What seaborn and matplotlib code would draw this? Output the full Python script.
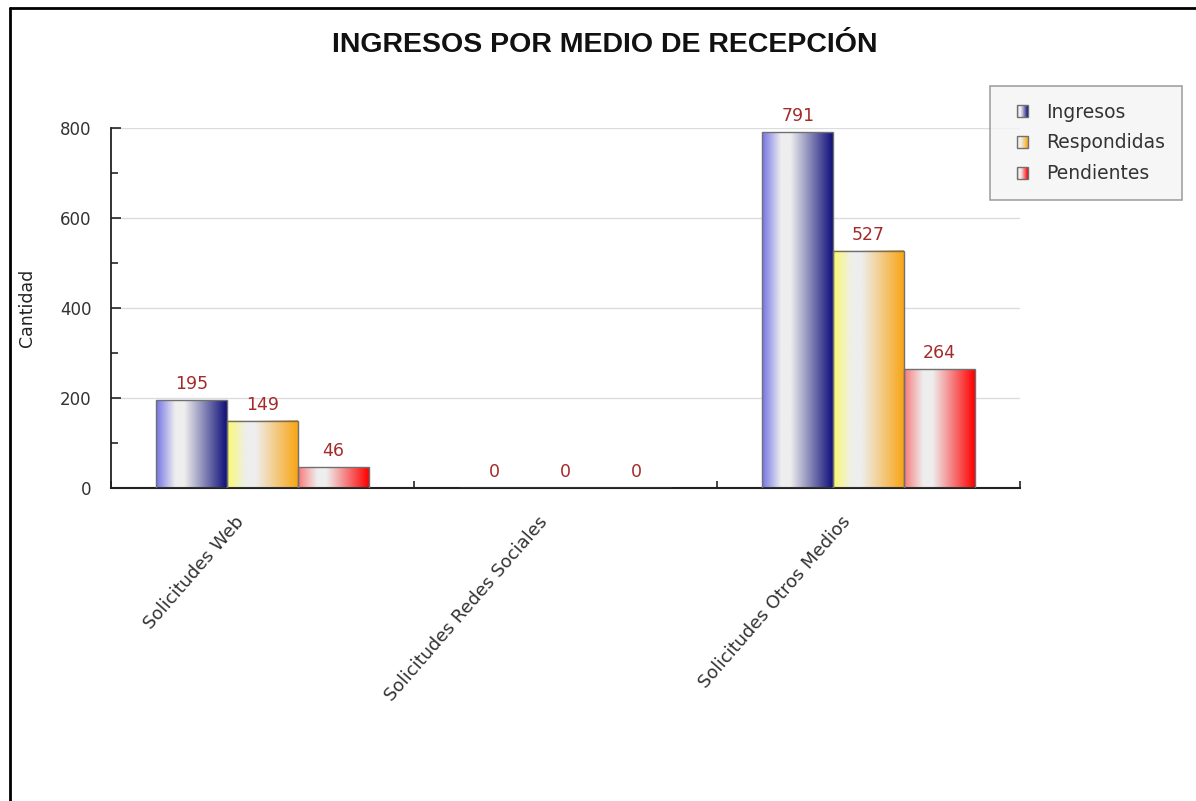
import numpy as np
import pandas as pd
import matplotlib
matplotlib.use("Agg")
import matplotlib.pyplot as plt
import seaborn as sns
from matplotlib.colors import LinearSegmentedColormap
from matplotlib.legend_handler import HandlerBase
from matplotlib.patches import Rectangle
from matplotlib.lines import Line2D
from matplotlib.transforms import ScaledTranslation

# datos del grafico
medios = ["Solicitudes Web", "Solicitudes Redes Sociales", "Solicitudes Otros Medios"]
series = ["Ingresos", "Respondidas", "Pendientes"]
ingresos = [195, 0, 791]
respondidas = [149, 0, 527]
pendientes = [46, 0, 264]

titulo = "INGRESOS POR MEDIO DE RECEPCIÓN"
y_label = "Cantidad"

# degradados (izquierda, blanco, derecha)
gradientes = {
    "Ingresos": ["#7373e6", "#eeeeee", "#10107a"],
    "Respondidas": ["#fafa6e", "#eeeeee", "#f9a514"],
    "Pendientes": ["#f87878", "#eeeeee", "#ff0000"],
}


def crear_cmap(nombre):
    izq, mid, der = gradientes[nombre]
    return LinearSegmentedColormap.from_list(
        nombre, [(0.0, izq), (0.27, mid), (0.40, mid), (1.0, der)])


class GradienteHandler(HandlerBase):
    """Dibuja el cuadrado de la leyenda con el mismo degradado."""
    def create_artists(self, legend, orig_handle, xdescent, ydescent,
                       width, height, fontsize, trans):
        cmap = crear_cmap(orig_handle.get_label())
        lado_w, lado_h = 8.3, 8.6  # en puntos
        x0 = -xdescent + width - lado_w
        y0 = -ydescent + (height - lado_h) / 2
        n = 12
        artistas = []
        for k in range(n):
            r = Rectangle((x0 + lado_w * k / n, y0), lado_w / n, lado_h,
                          facecolor=cmap((k + 0.5) / n), edgecolor="none",
                          transform=trans)
            artistas.append(r)
        artistas.append(Rectangle((x0, y0), lado_w, lado_h,
                                  facecolor="none", edgecolor="#707070",
                                  linewidth=1, transform=trans))
        return artistas


df = pd.DataFrame({
    "medio": medios * 3,
    "estado": [s for s in series for _ in medios],
    "cantidad": ingresos + respondidas + pendientes,
})

sns.set_style("white")
plt.rcParams["font.family"] = ["DejaVu Sans"]

fig = plt.figure(figsize=(11.96, 8.01), dpi=100)
ax = fig.add_axes([111 / 1196, 1 - 488 / 801, 909 / 1196, 360 / 801])

sns.barplot(data=df, x="medio", y="cantidad", hue="estado", order=medios,
            hue_order=series, palette=[gradientes[s][2] for s in series],
            width=0.7, legend=False, edgecolor="#707070", linewidth=1,
            saturation=1, ax=ax)

# degradado sobre cada barra
grad = np.linspace(0, 1, 256).reshape(1, -1)
for serie, cont in zip(series, ax.containers):
    cmap = crear_cmap(serie)
    for rect in cont:
        x0, w, h = rect.get_x(), rect.get_width(), rect.get_height()
        if h > 0:
            ax.imshow(grad, cmap=cmap, extent=[x0, x0 + w, 0, h],
                      aspect="auto", zorder=2.5, interpolation="bilinear")
        rect.set_facecolor("none")
        rect.set_zorder(3)
    ax.bar_label(cont, labels=[f"{int(v)}" for v in cont.datavalues],
                 padding=5, fontsize=12.5, color="#a52a2a")

ax.set_xlim(-0.5, 2.5)
ax.set_ylim(0, 800)

# ejes
sns.despine(ax=ax)
ax.spines["left"].set_color("#222222")
ax.spines["bottom"].set_color("#222222")
ax.spines["left"].set_linewidth(1.3)
ax.spines["bottom"].set_linewidth(1.5)

ax.set_yticks(np.arange(0, 801, 200))
ax.set_yticks(np.arange(100, 800, 200), minor=True)
ax.tick_params(axis="y", which="major", direction="in", length=7.5, width=1.2,
               pad=14, labelsize=12, labelcolor="#333333", left=True)
ax.tick_params(axis="y", which="minor", direction="in", length=5, width=1.2, left=True)
ax.yaxis.grid(True, which="major", color="#dcdcdc", linewidth=1)
ax.set_axisbelow(True)

ax.set_xticks([0, 1, 2])
ax.set_xticklabels(medios, rotation=49, ha="right", va="center",
                   rotation_mode="anchor", fontsize=13, color="#333333")
ax.set_xticks([-0.5, 0.5, 1.5, 2.5], minor=True)
ax.tick_params(axis="x", which="major", length=0, pad=22)
ax.tick_params(axis="x", which="minor", direction="in", length=5, width=1.2, bottom=True)
desplaza = ScaledTranslation(-21 / 100, 0, fig.dpi_scale_trans)
for lbl in ax.get_xticklabels():
    lbl.set_transform(lbl.get_transform() + desplaza)

ax.set_xlabel("")
ax.set_ylabel(y_label, fontsize=12.5, color="#222222")
ax.yaxis.set_label_coords(-0.083, 0.5)

fig.text(0.506, 1 - 45 / 801, titulo, ha="center", va="center",
         fontsize=20.5, fontweight="bold", family="Liberation Sans", color="#111111")

# leyenda
handles = [Rectangle((0, 0), 1, 1, label=s) for s in series]
leg = fig.legend(handles=handles, labels=series, loc="upper left",
                 bbox_to_anchor=(990 / 1196, 1 - 86 / 801),
                 bbox_transform=fig.transFigure, borderaxespad=0,
                 handler_map={Rectangle: GradienteHandler()},
                 fontsize=13.5, frameon=True, fancybox=False,
                 handlelength=1.15, handleheight=0.7, handletextpad=0.96,
                 labelspacing=0.63, borderpad=0.88)
leg.get_frame().set_facecolor("#f4f4f4")
leg.get_frame().set_edgecolor("#8c8c8c")
leg.get_frame().set_linewidth(1.2)
for t in leg.get_texts():
    t.set_color("#333333")

# marco exterior (solo izquierda y arriba)
fig.add_artist(Line2D([10 / 1196, 10 / 1196], [0, 1 - 8 / 801],
                      transform=fig.transFigure, color="black", linewidth=2))
fig.add_artist(Line2D([10 / 1196, 1], [1 - 8 / 801, 1 - 8 / 801],
                      transform=fig.transFigure, color="black", linewidth=2))

fig.savefig("out.png", dpi=100, facecolor="white")
